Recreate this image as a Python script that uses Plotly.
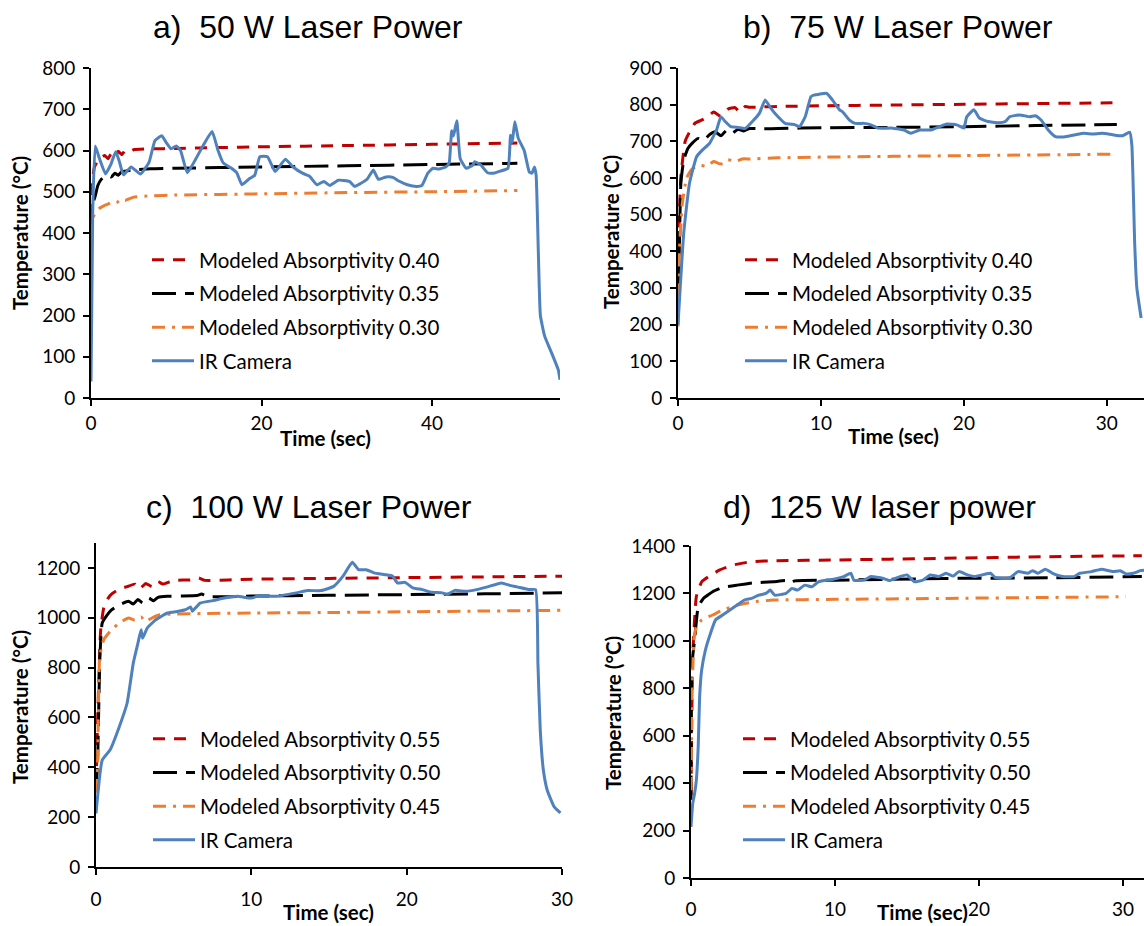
import plotly.graph_objects as go

# ---------------- a) 50 W ----------------
A_T040 = [0, 0.15, 0.4, 0.8, 1.2, 1.6, 2.0, 2.4, 2.8, 3.2, 3.6, 4.0, 4.5, 5, 7, 10, 15, 20, 30, 40, 50]
A_M040 = [390, 520, 560, 575, 582, 588, 580, 594, 586, 598, 590, 600, 597, 602, 604, 605, 607, 609, 612, 615, 618]
A_T035 = [0, 0.2, 0.5, 0.8, 1.2, 1.6, 2.0, 2.4, 2.8, 3.2, 3.6, 4.0, 5, 7, 10, 20, 30, 40, 50]
A_M035 = [400, 470, 490, 515, 530, 537, 540, 536, 545, 540, 549, 550, 553, 556, 557, 560, 563, 566, 569]
A_T030 = [0, 0.1, 0.3, 0.6, 1.0, 1.5, 2.0, 2.5, 3.0, 3.5, 4.0, 5, 7, 10, 20, 30, 40, 50]
A_M030 = [390, 420, 440, 452, 460, 466, 470, 476, 473, 482, 479, 487, 490, 492, 495, 498, 500, 503]
A_TIR = [0, 0.2, 0.5, 1.0, 1.7, 2.3, 2.9, 3.3, 3.8, 4.7, 5.8, 6.8, 7.5, 8.3, 8.8, 9.4, 10.0, 10.5, 11.3,
         12.3, 13.2, 14.2, 14.9, 15.5, 16.4, 17.1, 17.7, 18.6, 19.2, 19.8, 20.7, 21.6, 22.8, 23.7, 24.8,
         25.6, 26.5, 27.3, 28.0, 29.0, 30.3, 30.9, 31.6, 32.4, 33.1, 33.7, 34.6, 35.4, 36.1, 37.1, 38.2,
         38.8, 39.5, 40.1, 40.8, 41.6, 42.0, 42.3, 42.5, 42.9, 43.3, 44.0, 44.8, 45.0, 45.7, 46.5, 47.2,
         48.0, 48.9, 49.2, 49.4, 49.7, 50.1, 50.8, 51.4, 51.7, 52.0, 52.2, 52.45, 52.7, 53.2, 54.0, 54.8, 55.0]
A_IR = [40, 450, 611, 580, 543, 565, 597, 575, 541, 560, 543, 571, 624, 636, 620, 604, 611, 600, 546,
        580, 614, 646, 600, 570, 558, 546, 517, 532, 540, 585, 585, 549, 579, 560, 545,
        538, 517, 525, 515, 528, 525, 513, 520, 531, 553, 530, 536, 535, 526, 517, 513,
        515, 545, 557, 555, 560, 570, 648, 635, 672, 580, 557, 565, 573, 565, 546, 545,
        550, 557, 637, 620, 670, 630, 600, 548, 545, 560, 540, 360, 200, 150, 110, 68, 44]

# ---------------- b) 75 W ----------------
B_T040 = [0, 0.2, 0.5, 0.8, 1.2, 1.6, 2.0, 2.5, 3.0, 3.5, 4.0, 4.3, 4.7, 5.0, 6, 7, 10, 15, 20, 25, 30.7]
B_M040 = [350, 604, 700, 725, 750, 757, 765, 780, 768, 788, 792, 780, 795, 793, 794, 795, 797, 799, 801, 803, 805]
B_T035 = [0, 0.05, 0.2, 0.4, 0.7, 1.0, 1.4, 1.8, 2.2, 2.6, 3.0, 3.4, 3.8, 4.2, 4.6, 5.0, 6, 7, 10, 15, 20, 25, 30.7]
B_M035 = [300, 331, 585, 649, 681, 695, 708, 703, 718, 726, 715, 730, 722, 733, 728, 735, 734, 735, 737, 738, 740, 743, 746]
B_T030 = [0, 0.1, 0.3, 0.6, 1.0, 1.5, 2.0, 2.5, 3.0, 3.5, 4.0, 4.5, 5, 7, 10, 20, 30.7]
B_M030 = [195, 400, 530, 600, 625, 635, 632, 645, 638, 650, 645, 652, 652, 655, 657, 661, 665]
B_TIR = [0, 0.4, 0.8, 1.3, 1.7, 2.2, 2.7, 3.0, 3.3, 3.7, 4.2, 4.7, 5.2, 5.7, 6.1, 6.5, 7.0, 7.5, 8.2, 8.5,
         8.9, 9.3, 9.5, 10.4, 10.8, 11.3, 11.5, 12.0, 12.4, 13.0, 13.5, 14.0, 15.0, 15.8, 16.3, 16.9,
         17.7, 18.3, 18.8, 19.5, 20.0, 20.2, 20.7, 21.1, 21.7, 22.4, 22.9, 23.2, 23.9, 24.6, 25.0, 25.4,
         25.9, 26.4, 27.0, 27.8, 28.4, 29.0, 29.7, 30.4, 31.1, 31.6, 31.75, 31.95, 32.1, 32.4]
B_IR = [200, 449, 585, 658, 676, 694, 731, 767, 754, 740, 738, 735, 754, 777, 813, 790, 767, 749, 745, 740,
        767, 822, 826, 831, 813, 786, 781, 758, 749, 749, 745, 736, 736, 731, 722, 731,
        731, 740, 747, 745, 736, 767, 786, 763, 754, 751, 754, 767, 772, 767, 770, 758,
        731, 713, 712, 718, 722, 720, 722, 718, 715, 725, 690, 420, 300, 218]

# ---------------- c) 100 W ----------------
C_T055 = [0, 0.1, 0.3, 0.5, 0.8, 1.0, 1.5, 2.0, 2.5, 2.8, 3.2, 3.6, 4.0, 4.3, 5.0, 6.0, 6.6, 7.0, 10, 15, 20, 25, 30]
C_M055 = [320, 580, 950, 1040, 1080, 1095, 1115, 1125, 1135, 1115, 1138, 1125, 1145, 1135, 1150, 1152, 1160, 1150,
          1155, 1158, 1161, 1164, 1167]
C_T050 = [0, 0.1, 0.25, 0.4, 0.7, 1.0, 1.5, 2.1, 2.4, 2.7, 3.0, 3.4, 3.7, 4.0, 4.6, 5.5, 6.5, 6.8, 7.2, 10, 15, 20, 25, 30]
C_M050 = [300, 415, 840, 979, 1010, 1032, 1052, 1066, 1055, 1073, 1060, 1079, 1068, 1082, 1086, 1087, 1089, 1095,
          1085, 1087, 1090, 1093, 1096, 1100]
C_T045 = [0, 0.1, 0.24, 0.5, 1.0, 1.5, 2.1, 2.5, 2.9, 3.2, 3.6, 4.1, 5, 7, 10, 15, 20, 25, 30]
C_M045 = [300, 416, 845, 912, 952, 979, 999, 990, 1003, 985, 999, 1012, 1015, 1017, 1019, 1021, 1024, 1027, 1030]
C_TIR = [0, 0.4, 0.9, 1.5, 2.0, 2.4, 2.7, 2.9, 3.0, 3.3, 3.85, 4.6, 5.3, 5.75, 6.1, 6.2, 6.7, 7.65, 8.1, 9.1,
         10.0, 10.5, 11.6, 12.9, 13.6, 14.5, 15.3, 15.9, 16.5, 16.9, 17.4, 17.9, 18.6, 19.1, 19.4, 19.9,
         20.4, 21.0, 21.6, 22.3, 22.6, 23.1, 23.8, 24.5, 25.2, 26.1, 26.7, 27.1, 27.9, 28.3, 28.45, 28.6,
         28.8, 29.05, 29.5, 29.9]
C_IR = [215, 429, 469, 563, 657, 818, 898, 952, 918, 959, 992, 1019, 1026, 1032, 1043, 1026, 1059, 1070, 1077, 1086,
        1079, 1089, 1086, 1100, 1109, 1109, 1126, 1167, 1223, 1193, 1193, 1180, 1173, 1167, 1140, 1142,
        1120, 1113, 1102, 1100, 1093, 1110, 1106, 1113, 1124, 1140, 1129, 1124, 1113, 1113, 818, 550,
        389, 308, 241, 217]

# ---------------- d) 125 W ----------------
D_T055 = [0, 0.12, 0.37, 0.74, 1.23, 2.0, 2.95, 4.2, 5.9, 10, 17.5, 24.8, 31.3]
D_M055 = [350, 933, 1186, 1249, 1271, 1299, 1320, 1334, 1338, 1341, 1348, 1355, 1359]
D_T050 = [0, 0.07, 0.25, 0.5, 0.86, 1.5, 2.2, 3.2, 4.4, 5.7, 6.6, 6.9, 7.2, 10, 17.5, 24.8, 31.3]
D_M050 = [330, 905, 1003, 1144, 1179, 1207, 1225, 1235, 1245, 1249, 1254, 1244, 1253, 1256, 1263, 1266, 1271]
D_T045 = [0, 0.07, 0.2, 0.37, 0.74, 1.5, 2.2, 3.2, 4.4, 5.7, 10, 17.5, 24.8, 30.2]
D_M045 = [370, 764, 1003, 1060, 1088, 1109, 1130, 1151, 1165, 1172, 1175, 1179, 1183, 1186]
D_TIR = [0, 0.12, 0.25, 0.37, 0.5, 0.6, 0.74, 1.0, 1.35, 1.7, 2.2, 2.7, 3.2, 3.7, 4.2, 4.7, 5.2, 5.5, 5.8, 6.6,
         7.0, 7.4, 7.9, 8.4, 8.85, 9.8, 10.6, 11.1, 11.3, 12.0, 12.5, 13.3, 13.8, 14.5, 15.0, 15.5, 16.1,
         16.6, 17.2, 17.7, 18.2, 18.6, 19.2, 19.7, 20.2, 20.8, 21.1, 22.1, 22.7, 23.4, 23.7, 24.1, 24.6,
         25.1, 25.8, 26.6, 27.0, 27.8, 28.5, 29.3, 29.8, 30.2, 30.7, 31.2, 31.45]
D_IR = [215, 314, 356, 412, 553, 764, 877, 961, 1031, 1088, 1109, 1130, 1151, 1172, 1179, 1193, 1200, 1214, 1193, 1200,
        1221, 1214, 1235, 1228, 1249, 1259, 1271, 1285, 1256, 1256, 1271, 1264, 1254, 1271, 1278, 1249, 1256,
        1278, 1271, 1285, 1273, 1292, 1278, 1271, 1278, 1285, 1268, 1264, 1292, 1285, 1296, 1285, 1302,
        1285, 1271, 1271, 1285, 1292, 1302, 1292, 1296, 1282, 1285, 1296, 1298]

TITLES = ["a)\u00a0 50 W Laser Power", "b)\u00a0 75 W Laser Power",
          "c)\u00a0 100 W Laser Power", "d)\u00a0 125 W laser power"]
LABELS_AB = ["Modeled Absorptivity 0.40", "Modeled Absorptivity 0.35", "Modeled Absorptivity 0.30", "IR Camera"]
LABELS_CD = ["Modeled Absorptivity 0.55", "Modeled Absorptivity 0.50", "Modeled Absorptivity 0.45", "IR Camera"]

W, H = 1144, 926


def px_x(x):
    return x / W


def px_y(y):
    return 1 - y / H


FAMILY = "Lato, Carlito, sans-serif"
TICK_FONT = dict(family=FAMILY, size=19, color="#000000")
LEGEND_FONT = dict(family=FAMILY, size=20.5, color="#000000")
XTITLE_FONT = dict(family=FAMILY, size=20.5, color="#000000", weight="bold")
YTITLE_FONT = dict(family=FAMILY, size=20.5, color="#000000", weight="bold")
TITLE_FONT = dict(family="Liberation Sans, Arial, sans-serif", size=32, color="#000000")

STYLES = [
    dict(color="#C00000", width=3, dash="12px,9px"),
    dict(color="#000000", width=3, dash="24px,9px"),
    dict(color="#ED7D31", width=3, dash="13px,7px,3px,7px"),
    dict(color="#4F81BD", width=3),
]

# panel geometry in pixels: (left, right, top, bottom)
PANELS = [
    dict(px=(91, 560, 68, 398), xr=[0, 55], yr=[0, 800], dy=100, dx=20,
         series=[(A_T040, A_M040), (A_T035, A_M035), (A_T030, A_M030), (A_TIR, A_IR)],
         labels=LABELS_AB, title=(308, 27), xt=(325, 438), yt=(20, 233), leg=(150, 262), std=1),
    dict(px=(678, 1144, 68, 398), xr=[0, 32.6], yr=[0, 900], dy=100, dx=10,
         series=[(B_T040, B_M040), (B_T035, B_M035), (B_T030, B_M030), (B_TIR, B_IR)],
         labels=LABELS_AB, title=(898, 27), xt=(893, 436), yt=(611, 232), leg=(743, 262), std=1),
    dict(px=(96, 562, 543, 867), xr=[0, 30], yr=[0, 1300], dy=200, dx=10,
         series=[(C_T055, C_M055), (C_T050, C_M050), (C_T045, C_M045), (C_TIR, C_IR)],
         labels=LABELS_CD, title=(309, 507), xt=(328, 912), yt=(20, 707), leg=(151, 741), std=8),
    dict(px=(691, 1144, 546, 878), xr=[0, 31.45], yr=[0, 1400], dy=200, dx=10,
         series=[(D_T055, D_M055), (D_T050, D_M050), (D_T045, D_M045), (D_TIR, D_IR)],
         labels=LABELS_CD, title=(879, 507), xt=(922, 912), yt=(613, 713), leg=(741, 741), std=7),
]

fig = go.Figure()
annotations = []
layout = {}

for i, p in enumerate(PANELS):
    n = "" if i == 0 else str(i + 1)
    left, right, top, bottom = p["px"]
    legname = "legend" + n
    for k, ((t, v), lab) in enumerate(zip(p["series"], p["labels"])):
        fig.add_trace(go.Scatter(
            x=t, y=v, mode="lines", name=lab,
            line=dict(**STYLES[k], shape="spline", smoothing=0.4),
            xaxis="x" + n, yaxis="y" + n,
            legend=legname, legendgroup=f"{i}-{k}",
        ))
    common = dict(showline=True, linecolor="#000000", linewidth=1.6, ticks="outside",
                  ticklen=6, tickwidth=1.5, tickcolor="#000000", showgrid=False,
                  zeroline=False, tickfont=TICK_FONT, fixedrange=True, automargin=False)
    layout["xaxis" + n] = dict(common, domain=[px_x(left), px_x(right)], range=p["xr"],
                               anchor="y" + n, tick0=0, dtick=p["dx"], ticklabelstandoff=p["std"])
    layout["yaxis" + n] = dict(common, domain=[px_y(bottom), px_y(top)], range=p["yr"],
                               anchor="x" + n, tick0=0, dtick=p["dy"], ticklabelstandoff=4)
    lx, ly = p["leg"]
    layout[legname] = dict(x=px_x(lx - 3), y=px_y(ly - 22), xanchor="left", yanchor="top",
                           bgcolor="rgba(0,0,0,0)", borderwidth=0, font=LEGEND_FONT,
                           itemwidth=42, tracegroupgap=4, traceorder="grouped")
    tx, ty = p["title"]
    annotations.append(dict(text=TITLES[i], x=px_x(tx), y=px_y(ty), xref="paper", yref="paper",
                            showarrow=False, font=TITLE_FONT, xanchor="center", yanchor="middle"))
    ax, ay = p["xt"]
    annotations.append(dict(text="Time (sec)", x=px_x(ax), y=px_y(ay), xref="paper", yref="paper",
                            showarrow=False, font=XTITLE_FONT, xanchor="center", yanchor="middle"))
    yx, yy = p["yt"]
    annotations.append(dict(text="Temperature (°C)", x=px_x(yx), y=px_y(yy), xref="paper", yref="paper",
                            showarrow=False, font=YTITLE_FONT, textangle=-90,
                            xanchor="center", yanchor="middle"))

fig.update_layout(
    template="none",
    width=W, height=H, margin=dict(l=0, r=0, t=0, b=0, pad=0, autoexpand=False),
    paper_bgcolor="white", plot_bgcolor="white",
    showlegend=True, annotations=annotations, **layout,
)

fig.write_html("out.html")
